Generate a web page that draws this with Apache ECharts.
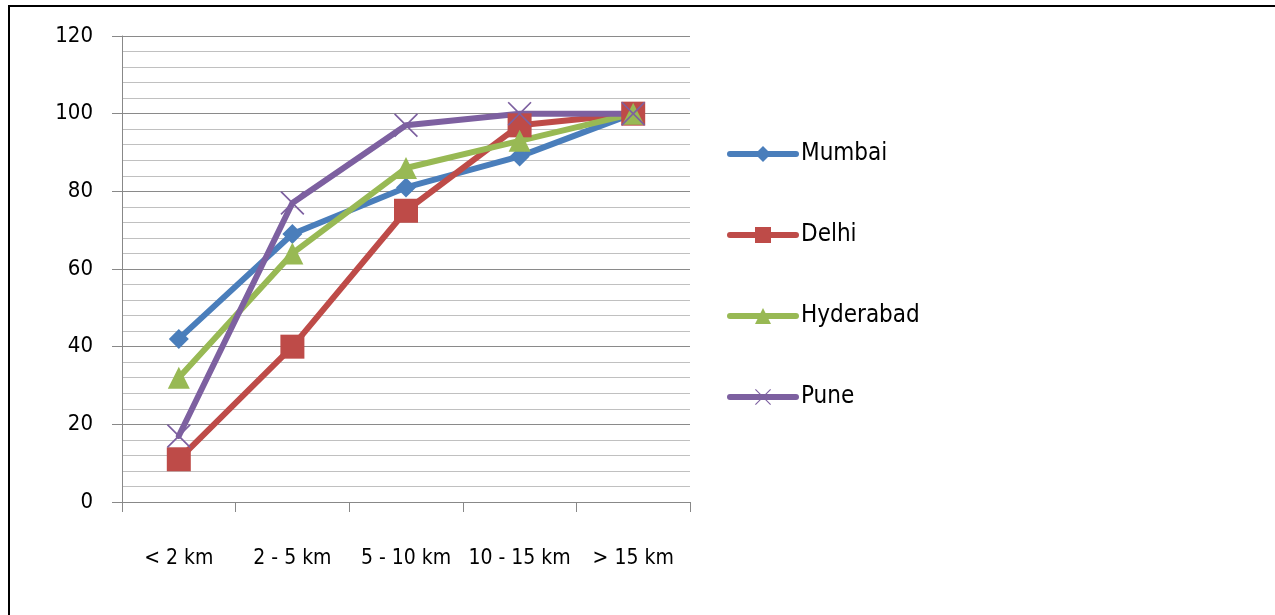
<!DOCTYPE html>
<html>
<head>
<meta charset="utf-8">
<script src="https://cdn.jsdelivr.net/npm/echarts@6/dist/echarts.min.js"></script>
<style>
html,body{margin:0;padding:0;background:#fff;}
#frame{position:absolute;left:8px;top:5px;width:1280px;height:640px;border:2px solid #000;box-sizing:border-box;}
#chart{position:absolute;left:0;top:0;width:1275px;height:615px;}
</style>
</head>
<body>
<div id="frame"></div>
<div id="chart"></div>
<script>
const categories = ['< 2 km', '2 - 5 km', '5 - 10 km', '10 - 15 km', '> 15 km'];
const mumbai = [42, 69, 81, 89, 100];
const delhi = [11, 40, 75, 97, 100];
const hyderabad = [32, 64, 86, 93, 100];
const pune = [17, 77, 97, 100, 100];
const yTicks = [0, 20, 40, 60, 80, 100, 120];

const FONT = '"DejaVu Sans Condensed", "Liberation Sans Narrow", sans-serif';
const xPath = 'path://M0,1 L1,0 L10,9 L19,0 L20,1 L11,10 L20,19 L19,20 L10,11 L1,20 L0,19 L9,10 Z';

function mk(name, data, color, symbol, size) {
  return {
    name, type: 'line', data,
    symbol, symbolSize: size,
    lineStyle: { width: 6, color, cap: 'round', join: 'round' },
    itemStyle: { color },
    emphasis: { disabled: true },
    animation: false
  };
}

const chart = echarts.init(document.getElementById('chart'), null, { renderer: 'canvas' });
chart.setOption({
  backgroundColor: 'transparent',
  grid: { left: 122, right: 585, top: 36, bottom: 113, containLabel: false },
  legend: {
    orient: 'vertical', left: 722, top: 137,
    itemWidth: 66, itemHeight: 20, itemGap: 57,
    lineStyle: { width: 6, cap: 'round' },
    textStyle: { fontFamily: FONT, fontSize: 24, color: '#000', padding: [0,0,0,0] },
    data: ['Mumbai', 'Delhi', 'Hyderabad', 'Pune']
  },
  xAxis: {
    type: 'category', data: categories, boundaryGap: true,
    axisLine: { lineStyle: { color: '#888', width: 1 } },
    axisTick: { show: true, length: 10, alignWithLabel: false, lineStyle: { color: '#888' } },
    axisLabel: { margin: 46, fontFamily: FONT, fontSize: 21, color: '#000', interval: 0 },
    splitLine: { show: false }
  },
  yAxis: {
    type: 'value', min: yTicks[0], max: yTicks[yTicks.length - 1], interval: 20,
    axisLine: { show: true, lineStyle: { color: '#888', width: 1 } },
    axisTick: { show: true, length: 10, lineStyle: { color: '#888' } },
    axisLabel: { margin: 29, fontFamily: FONT, fontSize: 22, color: '#000' },
    splitLine: { show: true, lineStyle: { color: '#8a8a8a', width: 1 } },
    minorTick: { show: false, splitNumber: 5 },
    minorSplitLine: { show: true, lineStyle: { color: '#c0c0c0', width: 1 } }
  },
  series: [
    mk('Mumbai', mumbai, '#4a7ebb', 'diamond', 20),
    mk('Delhi', delhi, '#be4b48', 'rect', 24),
    mk('Hyderabad', hyderabad, '#98b954', 'triangle', 22),
    mk('Pune', pune, '#7d60a0', xPath, 24)
  ]
});
</script>
</body>
</html>
